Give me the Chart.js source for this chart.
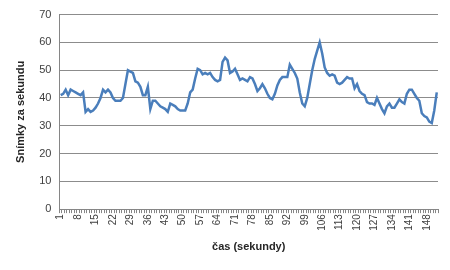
<!DOCTYPE html>
<html>
<head>
<meta charset="utf-8">
<script src="https://cdn.jsdelivr.net/npm/chart.js@4"></script>
<style>
  html, body { margin: 0; padding: 0; background: #fff; }
  #wrap { width: 450px; height: 270px; position: relative; }
</style>
</head>
<body>
<div id="wrap"><canvas id="fpsChart"></canvas></div>
<script>
// snímky za sekundu, jeden bod na sekundu
const fpsValues = [
  41, 41.5, 43, 41, 43, 42.5, 42, 41.5, 41, 42,
  35, 36, 35, 35.5, 36.5, 38, 40, 43, 42, 43,
  42, 40, 39, 39, 39, 40, 45, 50, 49.5, 49,
  46, 45.5, 44, 41, 41, 44, 36, 39, 39, 38,
  37, 36.5, 36, 35, 38, 37.5, 37, 36, 35.5, 35.5,
  35.5, 38, 42, 43, 47, 50.5, 50, 48.5, 49, 48.5,
  49, 47.5, 46.5, 46, 46.5, 53, 54.5, 53.5, 49, 49.5,
  50.5, 48.5, 46.5, 47, 46.5, 46, 47.5, 47, 45, 42.5,
  43.5, 45, 43.5, 41.5, 40, 39.5, 41.5, 44.5, 46.5, 47.5,
  47.5, 47.5, 52, 50.5, 49, 47, 42, 38, 37, 40,
  45, 50, 54, 57, 60, 56, 51, 49, 48, 48.5,
  48, 45.5, 45, 45.5, 46.5, 47.5, 47, 47, 43.5, 45,
  42.5, 41.5, 41, 38.5, 38, 38, 37.5, 40, 38, 36,
  34.5, 37, 38, 36.5, 36.5, 38, 39.5, 38.5, 38, 41.5,
  43, 43, 41.5, 40, 39, 34.5, 33.5, 33, 31.5, 31,
  35.5, 42
];
const seconds = fpsValues.map((v, i) => String(i + 1));
const labelStep = 7;
const yTicks = [0, 10, 20, 30, 40, 50, 60, 70];

const axisFont = { family: 'Liberation Sans, Arial, sans-serif', size: 11 };
const titleFont = { family: 'Liberation Sans, Arial, sans-serif', size: 11, weight: 'bold' };

document.addEventListener('DOMContentLoaded', () => {
    const ctx = document.getElementById('fpsChart').getContext('2d');
    new Chart(ctx, {
        type: 'line',
        data: {
            labels: seconds,
            datasets: [{
                data: fpsValues,
                borderColor: '#4a7ebb',
                borderWidth: 2.5,
                pointRadius: 0,
                fill: false,
                tension: 0
            }]
        },
        options: {
            responsive: true,
            maintainAspectRatio: false,
            animation: false,
            layout: { padding: { top: 5, right: 12, bottom: 16, left: 14 } },
            plugins: {
                legend: { display: false },
                tooltip: { enabled: false }
            },
            scales: {
                x: {
                    offset: true,
                    grid: {
                        offset: true,
                        drawOnChartArea: false,
                        drawTicks: true,
                        tickLength: 4,
                        color: '#868686'
                    },
                    border: { color: '#868686' },
                    ticks: {
                        autoSkip: false,
                        maxRotation: 90,
                        minRotation: 90,
                        padding: 1,
                        color: '#404040',
                        font: { family: axisFont.family, size: 10 },
                        callback: (val, i) => (i % labelStep === 0 ? seconds[i] : '')
                    },
                    title: {
                        display: true,
                        text: 'čas (sekundy)',
                        color: '#262626',
                        font: titleFont,
                        padding: { top: 9, bottom: 0 }
                    }
                },
                y: {
                    min: 0,
                    max: 70,
                    afterBuildTicks: (scale) => { scale.ticks = yTicks.map(v => ({ value: v })); },
                    grid: {
                        color: '#8c8c8c',
                        drawTicks: false
                    },
                    border: { color: '#868686' },
                    ticks: {
                        padding: 8,
                        color: '#404040',
                        font: axisFont
                    },
                    title: {
                        display: true,
                        text: 'Snímky za sekundu',
                        color: '#262626',
                        font: titleFont,
                        padding: { top: 0, bottom: 4 }
                    }
                }
            }
        }
    });
});
</script>
</body>
</html>
